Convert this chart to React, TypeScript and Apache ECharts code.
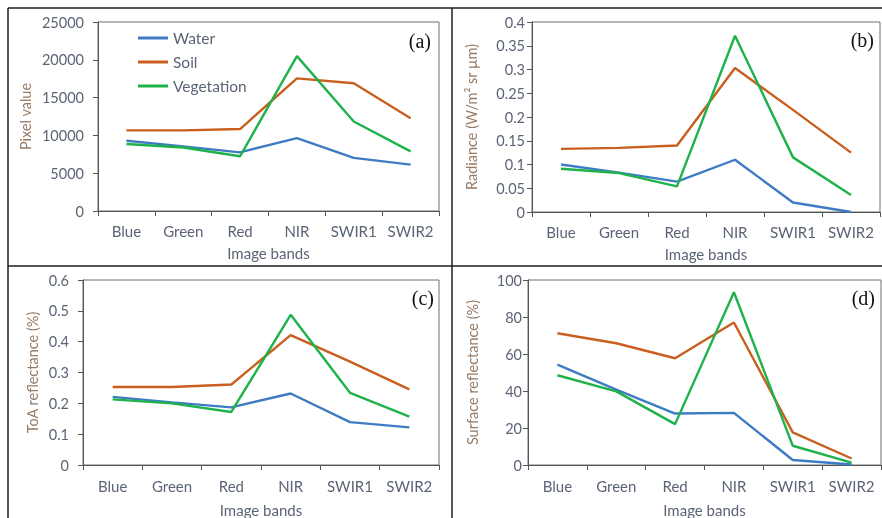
import React, { useEffect, useRef } from "react";
import * as echarts from "echarts";

const bands = ["Blue", "Green", "Red", "NIR", "SWIR1", "SWIR2"];
const seriesNames = ["Water", "Soil", "Vegetation"];
const colors = ["#3d7cc3", "#c95f1f", "#1fb24b"];

// (a) Pixel value
const pixelWater = [9300, 8550, 7760, 9650, 7020, 6140];
const pixelSoil = [10660, 10660, 10840, 17550, 16890, 12280];
const pixelVeg = [8870, 8400, 7240, 20490, 11840, 7890];

// (b) Radiance
const radWater = [0.1, 0.083, 0.064, 0.11, 0.02, 0.0];
const radSoil = [0.133, 0.135, 0.14, 0.303, 0.215, 0.125];
const radVeg = [0.091, 0.082, 0.054, 0.371, 0.115, 0.036];

// (c) ToA reflectance
const toaWater = [0.221, 0.203, 0.187, 0.232, 0.139, 0.122];
const toaSoil = [0.253, 0.253, 0.261, 0.421, 0.335, 0.245];
const toaVeg = [0.213, 0.2, 0.172, 0.487, 0.234, 0.157];

// (d) Surface reflectance
const srWater = [54.2, 40.8, 27.8, 28.2, 2.7, 0.3];
const srSoil = [71.2, 65.8, 57.7, 77, 17.6, 3.5];
const srVeg = [48.5, 39.8, 22.1, 93.4, 10.4, 1.3];

const yTitles = [
  "Pixel value",
  "Radiance (W/m\u00B2 sr \u00B5m)",
  "ToA reflectance (%)",
  "Surface reflectance (%)",
];
const yRanges = [
  { min: 0, max: 25000, interval: 5000 },
  { min: 0, max: 0.4, interval: 0.05 },
  { min: 0, max: 0.6, interval: 0.1 },
  { min: 0, max: 100, interval: 20 },
];
const panelLabels = ["(a)", "(b)", "(c)", "(d)"];
const xTitle = "Image bands";

const panelData = [
  [pixelWater, pixelSoil, pixelVeg],
  [radWater, radSoil, radVeg],
  [toaWater, toaSoil, toaVeg],
  [srWater, srSoil, srVeg],
];

const FONT = "Lato";
const tickColor = "#5b6476";
const titleColor = "#977b66";

export default function App() {
  const ref = useRef<HTMLDivElement>(null);
  useEffect(() => {
    if (!ref.current) return;
    const chart = echarts.init(ref.current, undefined, { renderer: "svg" });
    const grids = [
      { left: 98, top: 22, width: 341, height: 189 },
      { left: 532, top: 22, width: 348, height: 190 },
      { left: 83, top: 280, width: 356, height: 187 },
      { left: 528, top: 280, width: 353, height: 186 },
    ];
    const yNameGaps = [65, 53, 43, 48];
    const yLabelMargins = [14, 7, 14, 6];
    const xNameGaps = [34, 34, 37, 37];
    const xLabelMargins = [12, 12, 13, 13];
    const labelPos = [
      { x: 431, y: 41 },
      { x: 874, y: 40 },
      { x: 434, y: 298 },
      { x: 875, y: 298 },
    ];

    const option: any = {
      animation: false,
      grid: grids.map((g) => ({
        ...g,
        show: true,
        borderColor: "#6e6e6e",
        borderWidth: 1,
        backgroundColor: "transparent",
        containLabel: false,
      })),
      legend: {
        data: seriesNames,
        orient: "vertical",
        left: 133,
        top: 25,
        icon: "rect",
        itemWidth: 30,
        itemHeight: 3,
        itemGap: 8,
        textStyle: {
          fontFamily: FONT,
          fontSize: 15.5,
          color: tickColor,
          lineHeight: 16,
        },
      },
      xAxis: grids.map((_, i) => ({
        type: "category",
        gridIndex: i,
        data: bands,
        boundaryGap: true,
        name: xTitle,
        nameLocation: "middle",
        nameGap: xNameGaps[i],
        nameTextStyle: { fontFamily: FONT, fontSize: 15, color: tickColor },
        axisLine: { show: true, lineStyle: { color: "#555555", width: 1 } },
        axisTick: { show: true, length: 5, lineStyle: { color: "#555555" } },
        axisLabel: {
          fontFamily: FONT,
          fontSize: 15,
          color: tickColor,
          margin: xLabelMargins[i],
          interval: 0,
        },
        splitLine: { show: false },
      })),
      yAxis: grids.map((_, i) => ({
        type: "value",
        gridIndex: i,
        min: yRanges[i].min,
        max: yRanges[i].max,
        interval: yRanges[i].interval,
        name: yTitles[i],
        nameLocation: "middle",
        nameGap: yNameGaps[i],
        nameTextStyle: { fontFamily: FONT, fontSize: 14.5, color: titleColor },
        axisLine: { show: true, lineStyle: { color: "#555555", width: 1 } },
        axisTick: { show: true, length: 5, lineStyle: { color: "#555555" } },
        axisLabel: {
          fontFamily: FONT,
          fontSize: 14.5,
          color: tickColor,
          margin: yLabelMargins[i],
          formatter: (v: number) => String(parseFloat(v.toFixed(4))),
        },
        splitLine: { show: false },
      })),
      series: panelData.flatMap((arrs, p) =>
        arrs.map((d, s) => ({
          type: "line",
          name: seriesNames[s],
          xAxisIndex: p,
          yAxisIndex: p,
          data: d,
          symbol: "none",
          lineStyle: { color: colors[s], width: 2.4 },
          itemStyle: { color: colors[s] },
          z: 3 + (s === 2 ? 1 : 0),
        }))
      ),
      graphic: [
        ...panelLabels.map((t, i) => ({
          type: "text",
          x: labelPos[i].x,
          y: labelPos[i].y,
          style: {
            text: t,
            fontFamily: "Liberation Serif",
            fontSize: 20,
            fill: "#111111",
            align: "right",
            verticalAlign: "middle",
          },
          z: 10,
        })),
        { type: "line", shape: { x1: 8, y1: 8, x2: 882, y2: 8 }, style: { stroke: "#1e1e1e", lineWidth: 1.5 } },
        { type: "line", shape: { x1: 8, y1: 8, x2: 8, y2: 518 }, style: { stroke: "#1e1e1e", lineWidth: 1.5 } },
        { type: "line", shape: { x1: 452, y1: 8, x2: 452, y2: 518 }, style: { stroke: "#1e1e1e", lineWidth: 1.5 } },
        { type: "line", shape: { x1: 8, y1: 266, x2: 882, y2: 266 }, style: { stroke: "#1e1e1e", lineWidth: 1.5 } },
      ],
    };
    chart.setOption(option);
    return () => chart.dispose();
  }, []);
  return (
    <div
      ref={ref}
      style={{ position: "fixed", left: 0, top: 0, width: 882, height: 518 }}
    />
  );
}
